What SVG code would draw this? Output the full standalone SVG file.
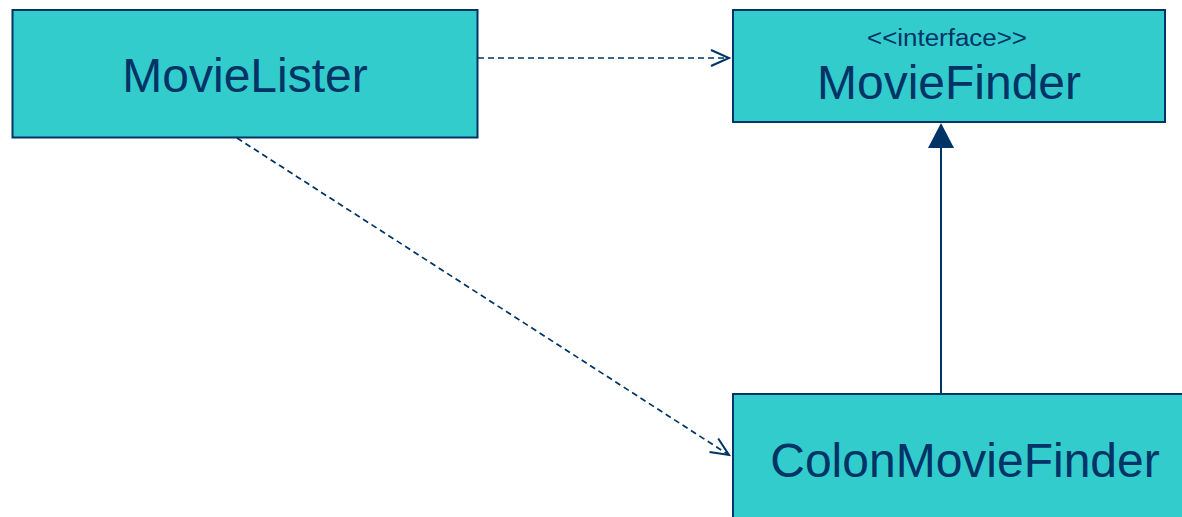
<svg xmlns="http://www.w3.org/2000/svg" width="1182" height="517" viewBox="0 0 1182 517">
  <style>
    .box { fill: #33cccc; stroke: #003366; stroke-width: 2; }
    .label { font-family: "Liberation Sans", Arial, sans-serif; fill: #003366; text-anchor: middle; }
    .name { font-size: 48px; }
    .stereo { font-size: 23px; }
    .dep { fill: none; stroke: #003366; stroke-width: 1.7; stroke-dasharray: 6 4; }
    .gen { fill: none; stroke: #003366; stroke-width: 2; }
  </style>
  <defs>
    <marker id="open-arrow" markerUnits="userSpaceOnUse" markerWidth="24" markerHeight="24" refX="20" refY="12" orient="auto" viewBox="0 0 24 24">
      <path d="M 2 4 L 20 12 L 2 20" fill="none" stroke="#003366" stroke-width="2"/>
    </marker>
  </defs>
  <rect width="1182" height="517" fill="#ffffff"/>

  <g id="connectors">
    <!-- MovieLister uses MovieFinder -->
    <line class="dep" x1="478" y1="58" x2="729" y2="58" marker-end="url(#open-arrow)"/>
    <!-- MovieLister creates ColonMovieFinder -->
    <line class="dep" x1="237" y1="138" x2="729" y2="455" marker-end="url(#open-arrow)"/>
    <!-- ColonMovieFinder implements MovieFinder -->
    <line class="gen" x1="941" y1="394" x2="941" y2="147"/>
    <polygon points="941,123 954,148 928,148" fill="#003366"/>
  </g>

  <g id="movie-lister">
    <rect class="box" x="12.5" y="10" width="465" height="127.5"/>
    <text class="label name" x="245" y="92">MovieLister</text>
  </g>

  <g id="movie-finder">
    <rect class="box" x="733" y="10" width="432" height="112"/>
    <text class="label stereo" x="947" y="46" textLength="160" lengthAdjust="spacingAndGlyphs">&lt;&lt;interface&gt;&gt;</text>
    <text class="label name" x="949" y="99">MovieFinder</text>
  </g>

  <g id="colon-movie-finder">
    <rect class="box" x="733" y="394" width="464" height="140"/>
    <text class="label name" x="965" y="477">ColonMovieFinder</text>
  </g>
</svg>
